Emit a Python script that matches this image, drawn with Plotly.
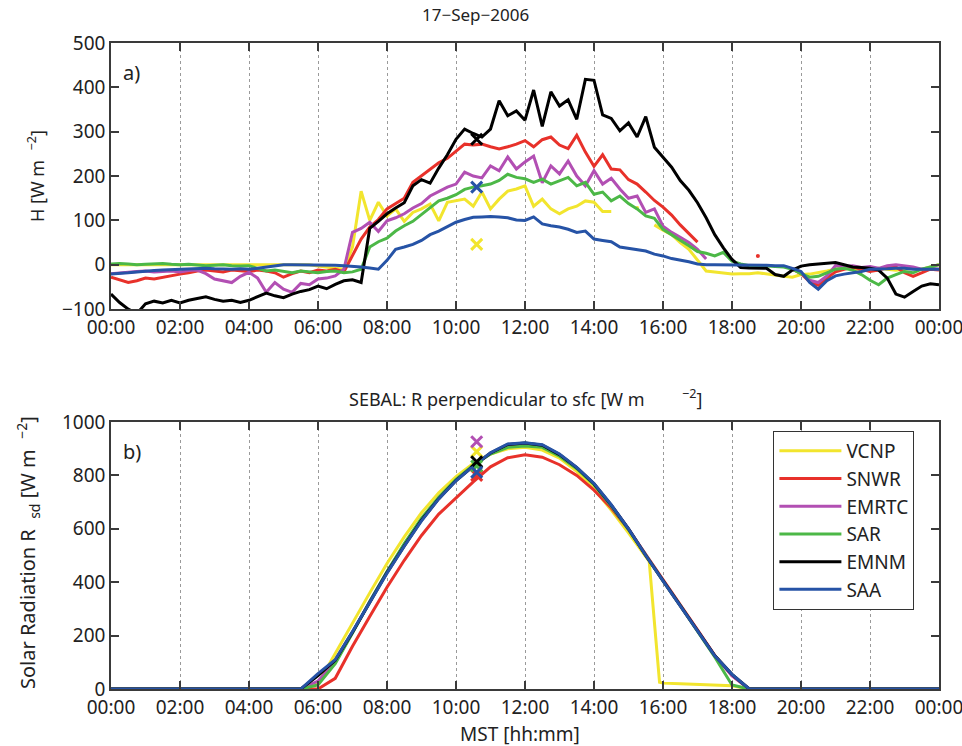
import plotly.graph_objects as go

# ---------------- data ----------------
SITES = ["VCNP", "SNWR", "EMRTC", "SAR", "EMNM", "SAA"]
COLORS = {"VCNP": "#f2e52e", "SNWR": "#e8312a", "EMRTC": "#b24fb3",
          "SAR": "#4cb847", "EMNM": "#000000", "SAA": "#2653a6"}

# panel a) time axis: 15-minute steps, hours after midnight (MST)
H_TIME = [i * 0.25 for i in range(97)]

H_VCNP = [0, 0, 0, 0, 0, 0, 0, 0, 0, 0, 0, 0, 0, 0, 0, 0,
          0, 0, 0, 0, 0, 0, 0, 0, -3, -6, -8, -10,
          40, 166, 100, 141, 110, 126, 98, 118, 126, 137, 99, 141,
          145, 148, 132, 164, 126, 148, 166, 171, 178, 132, 148, 126,
          115, 126, 132, 144, 141, 120, 120, None, None, 128, None, 90,
          78, 68, 50, 35, 10, -14, -16, -18, -21, -20, -20, -18,
          -21, -24, -26, -28, -22, -21, -18, -14, -10, -8, -10, -12,
          -10, -8, -10, -12, -10, -8, -10, -5, 0]
H_SNWR = [-28, -34, -40, -36, -30, -32, -28, -24, -21, -18, -14, -12,
          -14, -16, -12, -14, -15, -12, -14, -18, -28, -20, -14, -18,
          -12, -14, -10, -16, 20, 58, 85, 102, 126, 138, 150, 186,
          200, 214, 230, 240, 255, 272, 270, 272, 266, 261, 266, 272,
          280, 266, 282, 288, 270, 262, 292, 254, 222, 248, 216, 214,
          192, 182, 164, 145, 130, 112, 90, 70, 51, None, None, None,
          None, None, None, 20, None, None, None, -10, -20, -38, -46, -30,
          -16, -10, -5, -10, -15, -12, -6, -5, -18, -26, -18, -10, -12]
H_EMRTC = [-20, -18, -16, -15, -14, -16, -15, -14, -16, -13, -12, -20,
           -32, -36, -40, -26, -17, -30, -62, -40, -55, -62, -42, -45,
           -32, -30, -25, -10, 73, 82, 96, 75, 99, 106, 115, 128,
           138, 155, 165, 175, 182, 209, 200, 196, 223, 212, 243, 216,
           232, 245, 185, 223, 205, 234, 200, 178, 212, 182, 195, 171,
           150, 155, 118, 126, 87, 73, 62, 50, 35, 13, None, None,
           None, None, None, None, None, None, None, -8, -18, -35, -40, -25,
           -2, -4, -2, -6, -4, -8, -2, 0, -2, -5, -10, -8, -10]
H_SAR = [2, 3, 2, 0, 1, 2, 3, 1, 0, 1, 0, -2, -1, 0, -2, -3,
         -2, -8, -14, -12, -15, -18, -14, -16, -18, -15, -14, -18,
         -16, -10, 40, 52, 60, 76, 88, 98, 114, 128, 144, 150,
         158, 170, 175, 178, 182, 190, 204, 197, 194, 186, 193, 182,
         190, 197, 178, 186, 159, 164, 144, 155, 138, 126, 110, 105,
         80, 68, 55, 43, 30, 26, 20, 28, 8, 2, -2, -2,
         -3, -4, -5, -10, -20, -28, -26, -18, -10, -8, -12, -22,
         -35, -45, -30, -22, -15, -18, -10, -5, 0]
H_EMNM = [-66, -85, -100, -110, -88, -82, -86, -80, -86, -80, -76, -72,
          -78, -82, -80, -85, -80, -72, -64, -70, -74, -66, -60, -56,
          -48, -54, -44, -36, -34, -40, 82, 98, 115, 128, 140, 178,
          192, 184, 218, 248, 283, 306, 296, 288, 306, 370, 336, 347,
          326, 394, 312, 390, 358, 372, 328, 418, 416, 338, 330, 302,
          320, 288, 334, 265, 242, 220, 190, 168, 140, 106, 68, 38,
          12, -6, -7, -8, -8, -22, -26, -12, -3, 0, 2, 4,
          5, 0, -5, -6, -8, -12, -30, -66, -73, -60, -48, -43, -45]
H_SAA = [-21, -20, -18, -16, -14, -13, -12, -11, -10, -9, -9, -8,
         -9, -10, -10, -9, -10, -8, -5, -2, 0, 0, 0, 0,
         0, 0, -1, -2, -3, -5, -7, -10, 10, 35, 40, 46,
         55, 68, 76, 86, 96, 102, 107, 108, 109, 108, 106, 101,
         100, 108, 92, 88, 85, 80, 73, 76, 58, 55, 52, 40,
         37, 34, 31, 24, 20, 14, 11, 7, 2, 0, 0, 0,
         0, -1, 0, -1, -1, -2, -2, -8, -15, -40, -55, -36,
         -25, -21, -18, -15, -10, -10, -9, -8, -8, -10, -10, -10, -10]
H_SERIES = {"VCNP": H_VCNP, "SNWR": H_SNWR, "EMRTC": H_EMRTC,
            "SAR": H_SAR, "EMNM": H_EMNM, "SAA": H_SAA}

# satellite overpass estimates (x markers)
OVERPASS_T = 10.6
H_MARK = {"VCNP": 46, "SNWR": None, "EMRTC": None, "SAR": None, "EMNM": 283, "SAA": 175}

# panel b) solar radiation
R_TIME = [0, 5, 5.5, 6, 6.5, 7, 7.5, 8, 8.5, 9, 9.5, 10, 10.5, 11, 11.5, 12,
          12.5, 13, 13.5, 14, 14.5, 15, 15.5, 15.6, 15.9, 16, 16.5, 17, 17.5,
          18, 18.5, 19, 24]
R_VCNP = [0, 0, 0, 20, 135, 245, 360, 470, 570, 660, 735, 795, 845, 880, 900, 905,
          895, 865, 815, 750, 670, 585, 498, 478, 25, 22, 20, 18, 15, 12, 0, 0, 0]
R_SNWR = [0, 0, 0, 0, 40, 160, 272, 381, 482, 575, 655, 715, 776, 832, 866, 877,
          868, 840, 800, 745, 678, 598, 505, 486, 428, 410, 318, 222, 126, 50, 0, 0, 0]
R_EMRTC = [0, 0, 0, 30, 100, 212, 328, 438, 540, 635, 715, 782, 836, 882, 912, 918,
           910, 876, 828, 768, 688, 600, 502, 482, 424, 406, 312, 219, 124, 50, 0, 0, 0]
R_SAR = [0, 0, 0, 15, 95, 210, 328, 440, 545, 640, 718, 785, 838, 880, 905, 910,
         905, 872, 825, 765, 685, 597, 500, 482, 423, 405, 312, 218, 120, 15, 0, 0, 0]
R_EMNM = [0, 0, 0, 50, 108, 213, 326, 436, 536, 632, 713, 781, 835, 884, 916, 921,
          913, 878, 829, 769, 689, 600, 500, 481, 424, 406, 312, 219, 125, 55, 0, 0, 0]
R_SAA = [0, 0, 0, 58, 110, 215, 325, 434, 535, 630, 712, 780, 835, 885, 918, 922,
         915, 880, 830, 770, 690, 600, 500, 480, 423, 405, 311, 218, 124, 55, 0, 0, 0]
R_SERIES = {"VCNP": R_VCNP, "SNWR": R_SNWR, "EMRTC": R_EMRTC,
            "SAR": R_SAR, "EMNM": R_EMNM, "SAA": R_SAA}
R_MARK = {"VCNP": 889, "SNWR": 800, "EMRTC": 926, "SAR": 835, "EMNM": 851, "SAA": 812}

TICK_HOURS = [0, 2, 4, 6, 8, 10, 12, 14, 16, 18, 20, 22, 24]
TICK_LABELS = ["00:00", "02:00", "04:00", "06:00", "08:00", "10:00", "12:00",
               "14:00", "16:00", "18:00", "20:00", "22:00", "00:00"]

# ---------------- figure ----------------
FONT = "Noto Sans"
fig = go.Figure()

for s in SITES:
    ys = H_SERIES[s]
    fig.add_trace(go.Scatter(x=H_TIME, y=ys, mode="lines", name=s, showlegend=False,
                             line=dict(color=COLORS[s], width=3), connectgaps=False,
                             xaxis="x", yaxis="y"))
    # isolated samples (no neighbours) drawn as small dots
    iso_x, iso_y = [], []
    for i, v in enumerate(ys):
        if v is None:
            continue
        prev_none = i == 0 or ys[i - 1] is None
        next_none = i == len(ys) - 1 or ys[i + 1] is None
        if prev_none and next_none:
            iso_x.append(H_TIME[i]); iso_y.append(v)
    if iso_x:
        fig.add_trace(go.Scatter(x=iso_x, y=iso_y, mode="markers", showlegend=False,
                                 marker=dict(color=COLORS[s], size=4),
                                 xaxis="x", yaxis="y"))

for s in SITES:
    if H_MARK[s] is not None:
        fig.add_trace(go.Scatter(x=[OVERPASS_T], y=[H_MARK[s]], mode="markers",
                                 showlegend=False,
                                 marker=dict(symbol="x-thin", size=11, color=COLORS[s],
                                             line=dict(width=3, color=COLORS[s])),
                                 xaxis="x", yaxis="y"))

for s in SITES:
    fig.add_trace(go.Scatter(x=R_TIME, y=R_SERIES[s], mode="lines", name=s,
                             line=dict(color=COLORS[s], width=3),
                             xaxis="x2", yaxis="y2"))

for s in SITES:
    fig.add_trace(go.Scatter(x=[OVERPASS_T], y=[R_MARK[s]], mode="markers",
                             showlegend=False,
                             marker=dict(symbol="x-thin", size=11, color=COLORS[s],
                                         line=dict(width=3, color=COLORS[s])),
                             xaxis="x2", yaxis="y2"))

axis_common = dict(showline=True, linecolor="#3a3a3a", linewidth=1.5, mirror="ticks",
                   ticks="inside", ticklen=8, tickwidth=1.5, tickcolor="#3a3a3a",
                   zeroline=False, ticklabeloverflow="allow", automargin=False,
                   tickfont=dict(family=FONT, size=19, color="#222222"))
xaxis_common = dict(axis_common, range=[0, 24], tickvals=TICK_HOURS, ticktext=TICK_LABELS,
                    showgrid=True, gridcolor="#9a9a9a", griddash="dot", gridwidth=1)

fig.update_layout(
    width=962, height=746,
    margin=dict(l=111, r=23, t=43, b=57, autoexpand=False),
    paper_bgcolor="white", plot_bgcolor="white",
    font=dict(family=FONT, color="#222222"),
    xaxis=dict(xaxis_common, domain=[0, 1], anchor="y"),
    yaxis=dict(axis_common, domain=[0.588, 1], range=[-100, 500], dtick=100,
               showgrid=False, anchor="x"),
    xaxis2=dict(xaxis_common, domain=[0, 1], anchor="y2"),
    yaxis2=dict(axis_common, domain=[0, 0.4133], range=[0, 1000], dtick=200,
                showgrid=False, anchor="x2"),
    legend=dict(x=0.8, y=0.3994, xanchor="left", yanchor="top",
                bordercolor="#333333", borderwidth=1, bgcolor="white",
                font=dict(family=FONT, size=19, color="#222222"),
                tracegroupgap=0, itemwidth=62),
    showlegend=True,
)

NB = "&nbsp;"
ann = [
    dict(text="17−Sep−2006", x=475, y=15, font_size=17),
    dict(text="SEBAL: R perpendicular to sfc [W m" + NB * 8 + "<sup>−2</sup>]",
         x=525, y=398, font_size=18),
    dict(text="MST [hh:mm]", x=520, y=734, font_size=19),
    dict(text="H [W m" + NB * 2 + "<sup>−2</sup>]", x=36, y=176, font_size=18, textangle=-90),
    dict(text="Solar Radiation R" + NB * 2 + "<sub>sd</sub>" + NB + "[W m" + NB * 2
         + "<sup>−2</sup>]", x=28, y=553, font_size=20, textangle=-90),
]
for a in ann:
    fig.add_annotation(text=a["text"], xref="paper", yref="paper",
                       x=(a["x"] - 111) / 828,
                       y=(689 - a["y"]) / 646,
                       xanchor="center", yanchor="middle", showarrow=False,
                       textangle=a.get("textangle", 0),
                       font=dict(family=FONT, size=a["font_size"], color="#222222"))

fig.add_annotation(text="a)", xref="x domain", yref="y domain", x=0.012, y=0.89,
                   xanchor="left", yanchor="middle", showarrow=False,
                   font=dict(family=FONT, size=20, color="#222222"))
fig.add_annotation(text="b)", xref="x2 domain", yref="y2 domain", x=0.012, y=0.888,
                   xanchor="left", yanchor="middle", showarrow=False,
                   font=dict(family=FONT, size=20, color="#222222"))

fig.write_html("out.html")
